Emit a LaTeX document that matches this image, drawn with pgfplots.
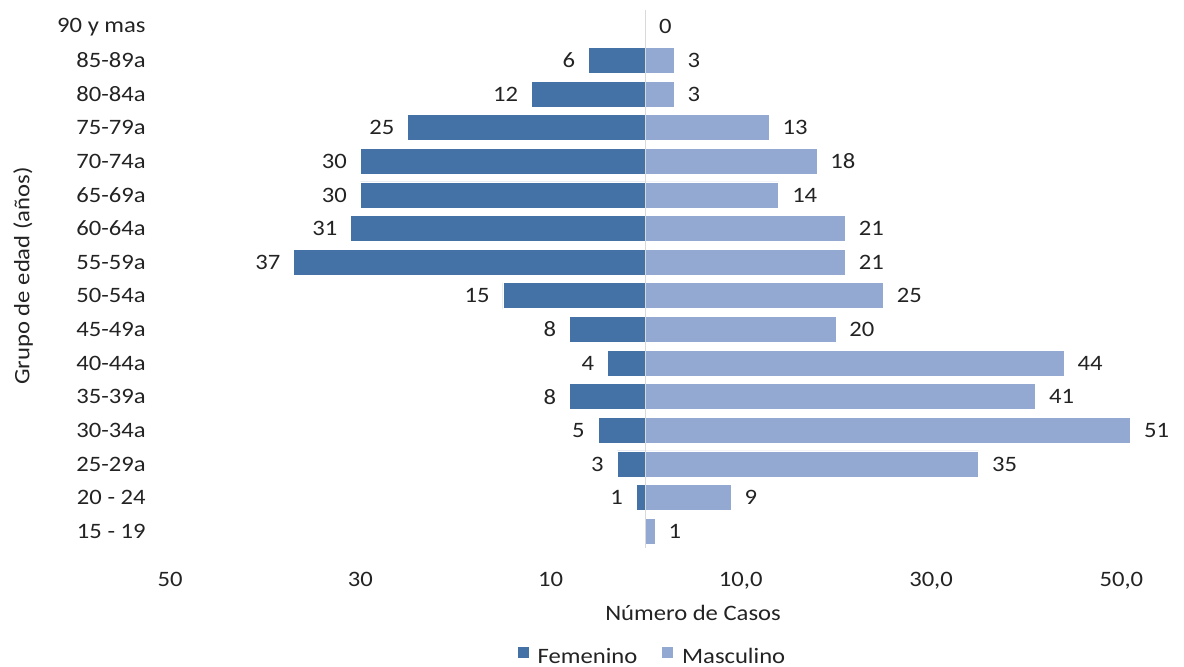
\documentclass[border=0pt]{standalone}
\usepackage{fontspec}
\setmainfont{Carlito}[FakeStretch=1.12]
\usepackage{pgfplots}
\pgfplotsset{compat=1.18}
\usepackage{pgfplotstable}
\definecolor{fem}{RGB}{68,114,166}
\definecolor{mas}{RGB}{148,169,209}
\definecolor{txt}{RGB}{35,35,35}

\pgfplotstableread{
y val lab
1 -1 1
2 -3 3
3 -5 5
4 -8 8
5 -4 4
6 -8 8
7 -15 15
8 -37 37
9 -31 31
10 -30 30
11 -30 30
12 -25 25
13 -12 12
14 -6 6
}\femtab

\pgfplotstableread{
y val
0 1
1 9
2 35
3 51
4 41
5 44
6 20
7 25
8 21
9 21
10 14
11 18
12 13
13 3
14 3
15 0
}\mastab

\begin{document}
\begin{tikzpicture}[font=\fontsize{11}{13}\selectfont, text=txt]
\path[use as bounding box] (0,0) rectangle (592pt,333pt);
\begin{axis}[
  at={(85pt,59pt)}, anchor=south west,
  scale only axis, width=498.5pt, height=269pt,
  xmin=-50, xmax=54.8, ymin=-0.5, ymax=15.5,
  clip=false,
  xbar, bar width=13pt, bar shift=0pt,
  axis line style={draw=none},
  major tick length=0pt,
  /pgf/number format/assume math mode=true,
  ytick={0,...,15},
  yticklabels={15 - 19,20 - 24,25-29a,30-34a,35-39a,40-44a,45-49a,50-54a,55-59a,60-64a,65-69a,70-74a,75-79a,80-84a,85-89a,90 y mas},
  yticklabel style={anchor=east, inner sep=0pt, xshift=-12pt},
  xtick={-50,-30,-10,10,30,50},
  xticklabels={50,30,10,{10,0},{30,0},{50,0}},
  xticklabel style={anchor=base, inner sep=0pt, yshift=-19pt},
  ylabel={Grupo de edad (años)},
  ylabel style={at={(axis description cs:-0.1474,0.5056)}, anchor=center},
  xlabel={Número de Casos},
  xlabel style={at={(axis description cs:0.5246,-0.1208)}, anchor=center},
  legend style={at={(axis description cs:0.4845,-0.2026)}, anchor=center, draw=none, fill=none,
    legend columns=2, inner sep=0pt,
    /tikz/every odd column/.append style={column sep=2pt},
    /tikz/every even column/.append style={column sep=10pt}},
  legend image code/.code={\fill[#1] (0pt,-0.5pt) rectangle (6pt,5.5pt);},
]
\addplot[fill=fem, draw=white, line width=0.4pt,
  nodes near coords, point meta=explicit,
  every node near coord/.append style={anchor=east, inner sep=0pt, xshift=-6.5pt, text=txt}]
  table[x=val, y=y, meta=lab] {\femtab};
\addlegendentry{Femenino}
\addplot[fill=mas, draw=white, line width=0.4pt,
  nodes near coords, point meta=x,
  every node near coord/.append style={anchor=west, inner sep=0pt, xshift=6.5pt, text=txt}]
  table[x=val, y=y] {\mastab};
\addlegendentry{Masculino}
\draw[color=black!15, line width=0.8pt] (axis cs:0,-0.5) -- (axis cs:0,15.5);
\end{axis}
\end{tikzpicture}
\end{document}
